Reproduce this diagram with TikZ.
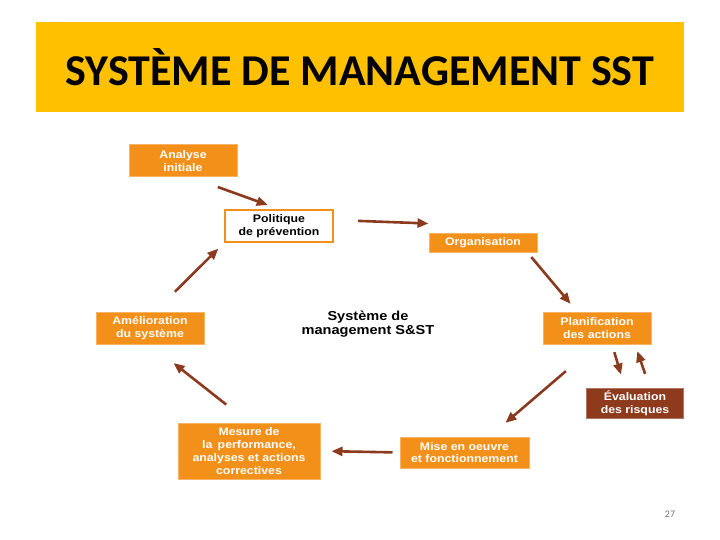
\documentclass[tikz,border=0pt]{standalone}
\usepackage{fontspec}
\usetikzlibrary{arrows.meta,positioning}
\newfontfamily\titlefont{Carlito}
\newfontfamily\boxfont[FakeStretch=1.12]{Liberation Sans}
\definecolor{titlebg}{HTML}{FFC000}
\definecolor{boxor}{HTML}{F39019}
\definecolor{boxrim}{HTML}{F7B465}
\definecolor{risk}{HTML}{8E3A1C}
\definecolor{flowc}{HTML}{8B3A1E}
\tikzstyle{step box} = [rectangle,fill=boxor,draw=boxrim,line width=1pt,text=white,font=\boxfont\bfseries\fontsize{11}{12.8}\selectfont,align=center,inner sep=0,minimum width=108pt]
\tikzstyle{white box} = [step box,fill=white,draw=boxor,line width=2pt,text=black]
\tikzstyle{risk box} = [step box,fill=risk,draw=risk!70!white,minimum width=97pt]
\tikzstyle{flow} = [-{Triangle[length=11pt,width=9pt]},line width=2.6pt,flowc]

\begin{document}
\begin{tikzpicture}[x=1pt,y=-1pt]
      \useasboundingbox (0,0) rectangle (720,540);
      % title
      \node[fill=titlebg,minimum width=648pt,minimum height=90pt,inner sep=0] (title) at (360,67) {};
      \node[font=\titlefont\bfseries\fontsize{44}{50}\selectfont] (titletext) at (title.center) {SYSTÈME DE MANAGEMENT SST};
      % boxes of the cycle
      \node[step box,minimum height=32pt] (analyse) at (183,161) {Analyse\\initiale};
      \node[white box,minimum height=32pt] (politique) at (279,226) {Politique\\de prévention};
      \node[step box,minimum height=19pt] (organisation) at (483,242.5) {Organisation};
      \node[step box,minimum height=32pt] (planification) at (597,328) {Planification\\des actions};
      \node[risk box,minimum height=30pt] (evaluation) at (635,403.5) {Évaluation\\des risques};
      \node[step box,minimum width=129pt,minimum height=31pt] (mise) at (464.5,452.5) {Mise en oeuvre\\et fonctionnement};
      \node[step box,minimum width=142pt,minimum height=56pt] (mesure) at (249,451) {Mesure de\\la\, performance,\\analyses et actions\\correctives};
      \node[step box,minimum height=32pt] (amelioration) at (150,328) {Amélioration\\du système};
      \node[font=\boxfont\bfseries\fontsize{13}{14.5}\selectfont,align=center] (centre) at (368,324) {Système de\\management S\&ST};
      % arrows
      \draw[flow,shorten <=37pt,shorten >=12pt] ([yshift=3pt]analyse.south) -- (politique.north);
      \draw[flow,shorten <=24pt,shorten >=0pt] ([yshift=6pt]politique.east) -- ([yshift=9pt]organisation.north west);
      \draw[flow,shorten <=6pt,shorten >=10pt] ([xshift=-10pt]organisation.south east) -- ([xshift=-20pt]planification.north);
      \draw[flow,shorten <=8pt,shorten >=14pt] ([xshift=15pt]planification.south) -- ([xshift=-10pt]evaluation.north);
      \draw[flow,shorten <=15pt,shorten >=7pt] ([xshift=15pt]evaluation.north) -- ([xshift=38pt]planification.south);
      \draw[flow,shorten <=41pt,shorten >=21pt] (planification.south) -- ([xshift=25pt]mise.north);
      \draw[flow,shorten <=7pt,shorten >=11pt] (mise.west) -- (mesure.east);
      \draw[flow,shorten <=29pt,shorten >=30pt] (mesure.north) -- (amelioration.south);
      \draw[flow,shorten <=28pt,shorten >=8pt] ([xshift=5pt]amelioration.north) -- (politique.south west);
      % page number
      \node[font=\titlefont\fontsize{10}{11}\selectfont,text=gray!90!black] (page) at (670,514) {27};
    \end{tikzpicture}
\end{document}
